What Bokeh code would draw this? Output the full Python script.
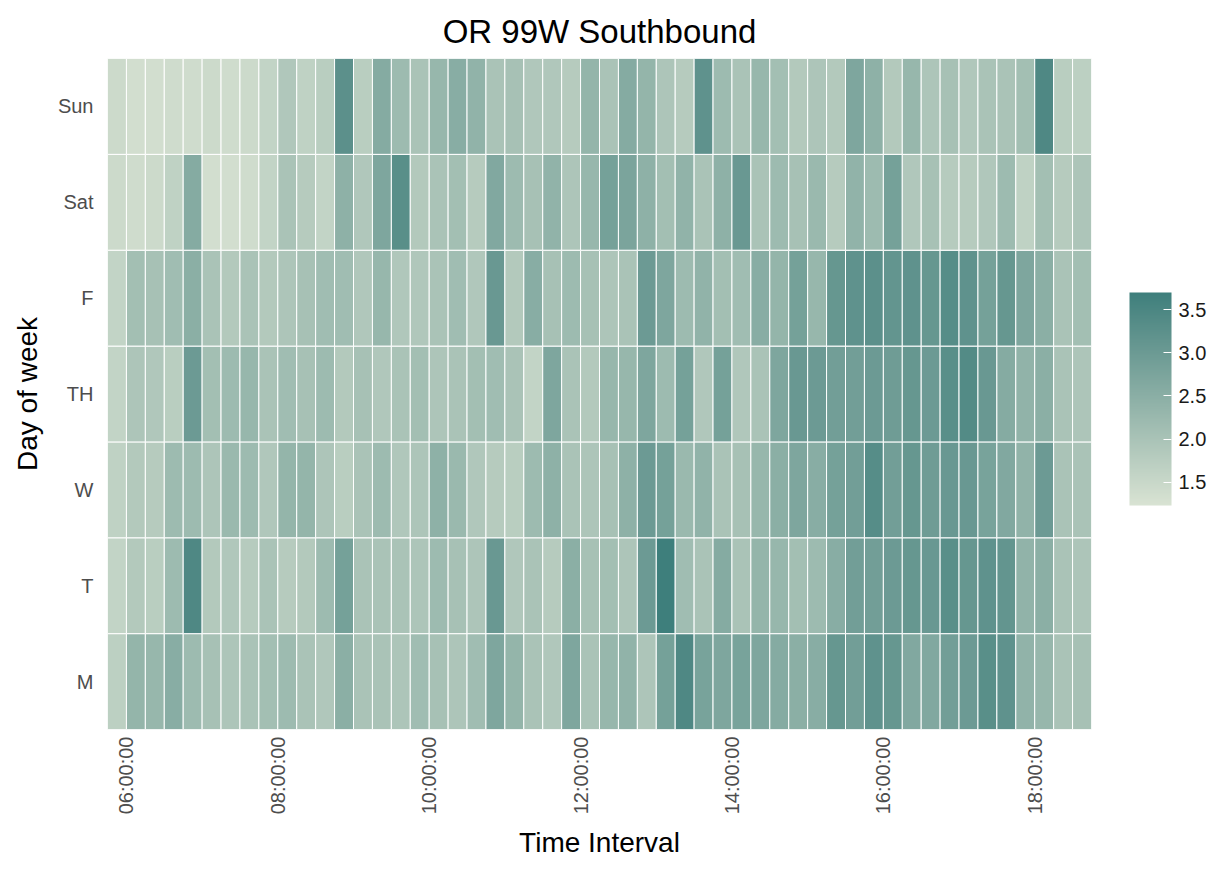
import math
from bokeh.plotting import figure
from bokeh.models import (ColumnDataSource, LinearColorMapper, ColorBar, FixedTicker,
                          NumeralTickFormatter, Range1d, FactorRange)
from bokeh.transform import transform
from bokeh.embed import file_html
from bokeh.resources import INLINE

# ---------------- data ----------------
days = ["M", "T", "W", "TH", "F", "Sat", "Sun"]

interval_start = [
    "05:45", "06:00", "06:15", "06:30", "06:45", "07:00", "07:15", "07:30", "07:45",
    "08:00", "08:15", "08:30", "08:45", "09:00", "09:15", "09:30", "09:45",
    "10:00", "10:15", "10:30", "10:45", "11:00", "11:15", "11:30", "11:45",
    "12:00", "12:15", "12:30", "12:45", "13:00", "13:15", "13:30", "13:45",
    "14:00", "14:15", "14:30", "14:45", "15:00", "15:15", "15:30", "15:45",
    "16:00", "16:15", "16:30", "16:45", "17:00", "17:15", "17:30", "17:45",
    "18:00", "18:15", "18:30",
]

mon = [1.7, 2.35, 2.3, 2.55, 2.2, 2.05, 1.95, 2.0, 2.1, 2.2, 2.0, 1.9, 2.5,
       2.0, 2.0, 1.95, 2.15, 2.05, 1.95, 2.15, 2.7, 2.35, 2.0, 1.9, 2.7, 2.0,
       2.3, 2.4, 1.95, 2.85, 3.45, 2.8, 2.7, 2.8, 2.7, 2.6, 2.5, 2.55, 3.1,
       2.9, 3.2, 3.1, 2.65, 2.65, 2.9, 3.0, 3.3, 3.2, 2.4, 2.3, 2.0, 2.05]
tue = [1.6, 1.85, 1.75, 2.2, 3.45, 1.85, 1.9, 1.8, 2.0, 1.8, 1.85, 2.2, 2.85,
       2.0, 2.0, 2.0, 1.95, 2.2, 2.05, 1.95, 3.05, 1.9, 2.0, 1.8, 2.5, 2.05,
       2.1, 1.95, 3.0, 3.7, 2.15, 2.0, 2.6, 2.0, 2.35, 2.3, 2.1, 2.2, 2.55,
       2.9, 2.9, 3.0, 3.1, 3.05, 3.3, 3.1, 3.2, 3.15, 2.4, 2.5, 2.0, 1.95]
wed = [1.65, 1.85, 1.8, 2.2, 2.2, 1.95, 2.25, 2.2, 1.9, 2.35, 2.35, 1.95, 1.75,
       2.0, 2.2, 1.9, 1.95, 2.45, 2.25, 1.9, 1.8, 1.75, 2.2, 2.45, 2.0, 1.95,
       2.05, 2.45, 3.0, 2.85, 2.25, 2.4, 2.0, 2.05, 2.3, 2.5, 2.7, 2.55, 2.85,
       2.9, 3.35, 2.9, 3.1, 2.95, 3.05, 3.05, 2.8, 2.65, 2.4, 3.0, 2.0, 2.0]
thu = [1.6, 1.95, 1.9, 1.75, 3.0, 2.1, 2.2, 2.3, 2.0, 2.15, 2.05, 2.2, 1.85,
       2.05, 1.9, 2.0, 2.1, 1.95, 2.0, 2.1, 2.15, 2.0, 1.6, 2.7, 2.0, 1.85,
       2.3, 2.3, 2.7, 2.2, 2.85, 1.9, 2.85, 1.9, 2.0, 2.7, 3.05, 3.0, 2.9,
       2.9, 3.0, 2.95, 3.1, 3.0, 3.3, 3.4, 3.05, 2.6, 2.4, 2.5, 2.0, 1.95]
fri = [1.6, 2.1, 2.05, 2.15, 2.5, 2.0, 1.85, 2.0, 1.85, 1.95, 2.05, 2.15, 2.15,
       1.9, 2.3, 1.9, 1.9, 2.0, 2.15, 1.9, 3.05, 1.85, 2.55, 2.05, 2.2, 2.05,
       1.95, 2.0, 3.0, 2.7, 2.2, 2.4, 2.1, 2.15, 2.55, 2.35, 2.85, 2.3, 3.1,
       3.2, 3.25, 3.15, 3.2, 3.1, 3.35, 3.2, 2.85, 3.1, 2.7, 2.5, 2.0, 2.1]
sat = [1.45, 1.4, 1.45, 1.65, 2.6, 1.35, 1.35, 1.4, 1.6, 2.0, 1.8, 1.6, 2.45,
       1.9, 2.7, 3.3, 1.85, 2.0, 2.1, 1.8, 2.65, 2.2, 2.05, 2.4, 1.95, 2.3,
       2.85, 2.75, 2.45, 2.1, 2.4, 2.0, 2.45, 3.05, 2.0, 2.2, 2.05, 2.25, 1.8,
       2.4, 2.2, 2.85, 1.9, 2.05, 1.8, 1.8, 1.9, 2.2, 1.65, 2.1, 1.8, 1.95]
sun = [1.45, 1.35, 1.35, 1.4, 1.4, 1.45, 1.4, 1.45, 1.6, 1.9, 1.65, 1.75, 3.25,
       1.75, 2.6, 2.2, 2.0, 2.3, 2.55, 2.4, 2.0, 2.05, 1.9, 1.9, 1.8, 2.35,
       2.0, 2.6, 2.35, 1.95, 1.8, 3.2, 2.2, 2.0, 2.3, 2.1, 1.85, 1.95, 1.85,
       2.7, 2.45, 1.85, 2.3, 1.95, 2.05, 1.9, 2.0, 2.0, 2.1, 3.45, 1.75, 1.7]

tick_hours = [6, 8, 10, 12, 14, 16, 18]
tick_labels = ["06:00:00", "08:00:00", "10:00:00", "12:00:00", "14:00:00", "16:00:00", "18:00:00"]
legend_ticks = [1.5, 2.0, 2.5, 3.0, 3.5]
fill_limits = [1.23, 3.70]
chart_title = "OR 99W Southbound"

# ---------------- palette (Lab interpolation, like ggplot gradient) ----------------
def _hex2rgb(h):
    h = h.lstrip("#")
    return [int(h[i:i + 2], 16) / 255 for i in (0, 2, 4)]

def _lin(c):
    return c / 12.92 if c <= 0.04045 else ((c + 0.055) / 1.055) ** 2.4

def _delin(c):
    c = max(0.0, min(1.0, c))
    return 12.92 * c if c <= 0.0031308 else 1.055 * c ** (1 / 2.4) - 0.055

_WP = (0.95047, 1.0, 1.08883)

def _rgb2lab(rgb):
    r, g, b = [_lin(c) for c in rgb]
    x = 0.4124 * r + 0.3576 * g + 0.1805 * b
    y = 0.2126 * r + 0.7152 * g + 0.0722 * b
    z = 0.0193 * r + 0.1192 * g + 0.9505 * b
    def f(t):
        return t ** (1 / 3) if t > 0.008856 else 7.787 * t + 16 / 116
    fx, fy, fz = f(x / _WP[0]), f(y / _WP[1]), f(z / _WP[2])
    return (116 * fy - 16, 500 * (fx - fy), 200 * (fy - fz))

def _lab2hex(lab):
    L, a, bb = lab
    fy = (L + 16) / 116
    fx = fy + a / 500
    fz = fy - bb / 200
    def fi(t):
        return t ** 3 if t ** 3 > 0.008856 else (t - 16 / 116) / 7.787
    x, y, z = fi(fx) * _WP[0], fi(fy) * _WP[1], fi(fz) * _WP[2]
    r = 3.2406 * x - 1.5372 * y - 0.4986 * z
    g = -0.9689 * x + 1.8758 * y + 0.0415 * z
    b = 0.0557 * x - 0.2040 * y + 1.0570 * z
    return "#%02x%02x%02x" % tuple(int(round(_delin(c) * 255)) for c in (r, g, b))

low_col, high_col = "#d9e3d3", "#3e7f7c"
la, lb = _rgb2lab(_hex2rgb(low_col)), _rgb2lab(_hex2rgb(high_col))
palette = [_lab2hex(tuple(la[k] + (lb[k] - la[k]) * i / 255 for k in range(3))) for i in range(256)]

# ---------------- source ----------------
rows = {"M": mon, "T": tue, "W": wed, "TH": thu, "F": fri, "Sat": sat, "Sun": sun}
xs, ys, vs = [], [], []
for d in days:
    for t, v in zip(interval_start, rows[d]):
        hh, mm = t.split(":")
        xs.append(int(hh) + int(mm) / 60 + 0.125)
        ys.append(d)
        vs.append(v)
src = ColumnDataSource(dict(x=xs, day=ys, val=vs))

mapper = LinearColorMapper(palette=palette, low=fill_limits[0], high=fill_limits[1])

FONT = "Liberation Sans"

p = figure(width=1210, height=861,
           x_range=Range1d(5.75, 18.75),
           y_range=FactorRange(factors=days, range_padding=0),
           output_backend="svg", toolbar_location=None,
           title=chart_title,
           min_border_left=107, min_border_right=119,
           min_border_top=58, min_border_bottom=10)

p.rect(x="x", y="day", width=0.25, height=1, source=src,
       fill_color=transform("val", mapper), line_color="white", line_width=1)

p.title.align = "center"
p.title.text_font = FONT
p.title.text_font_size = "33px"
p.title.text_font_style = "normal"
p.title.text_color = "black"
p.title.standoff = 18

p.xgrid.visible = False
p.ygrid.visible = False
p.outline_line_color = None
p.background_fill_color = "white"

p.xaxis.ticker = FixedTicker(ticks=tick_hours)
p.xaxis.major_label_overrides = {h: lab for h, lab in zip(tick_hours, tick_labels)}
p.xaxis.major_label_orientation = math.pi / 2
p.xaxis.axis_label = "Time Interval"
p.yaxis.axis_label = "Day of week"

for ax in (p.xaxis, p.yaxis):
    ax.axis_line_color = None
    ax.major_tick_line_color = None
    ax.minor_tick_line_color = None
    ax.major_tick_out = 0
    ax.major_tick_in = 0
    ax.minor_tick_out = 0
    ax.minor_tick_in = 0
    ax.major_label_text_font = FONT
    ax.major_label_text_font_size = "20px"
    ax.major_label_text_color = "#4d4d4d"
    ax.axis_label_text_font = FONT
    ax.axis_label_text_font_size = "28px"
    ax.axis_label_text_font_style = "normal"
    ax.axis_label_text_color = "black"

p.xaxis.major_label_standoff = 7
p.xaxis.axis_label_standoff = 10
p.yaxis.major_label_standoff = 14
p.yaxis.axis_label_standoff = 12

cb = ColorBar(color_mapper=mapper,
              ticker=FixedTicker(ticks=legend_ticks),
              formatter=NumeralTickFormatter(format="0.0"),
              width=42, height=213, padding=0, margin=0,
              location=(1022, 224),
              label_standoff=7,
              major_label_text_font=FONT,
              major_label_text_font_size="20px",
              major_label_text_color="#1a1a1a",
              major_tick_line_color="white", major_tick_in=8, major_tick_out=0,
              minor_tick_line_color=None,
              bar_line_color=None, border_line_color=None,
              background_fill_color=None)
p.add_layout(cb, "center")

open("out.html", "w").write(file_html(p, INLINE))
